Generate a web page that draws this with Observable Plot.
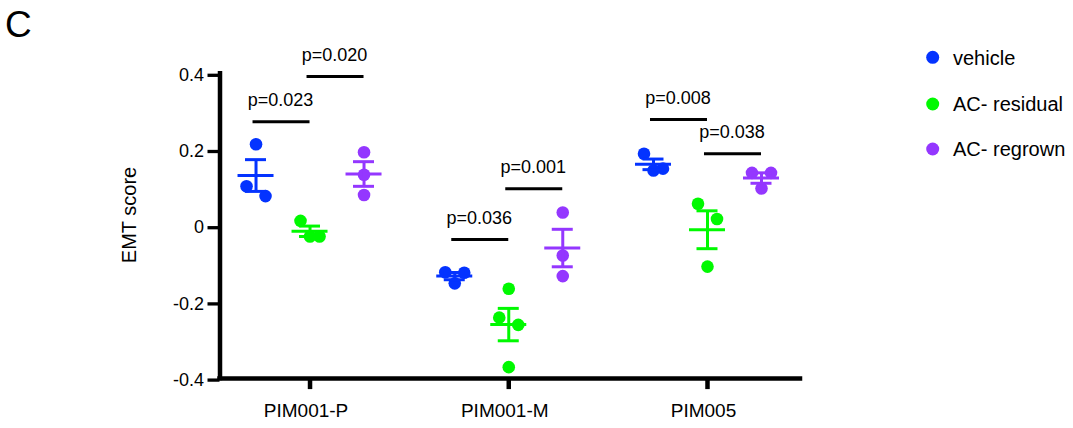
<!DOCTYPE html>
<html>
<head>
<meta charset="utf-8">
<script src="https://cdn.jsdelivr.net/npm/d3@7"></script>
<script src="https://cdn.jsdelivr.net/npm/@observablehq/plot@0.6"></script>
<style>
  html, body { margin: 0; padding: 0; background: #fff; }
  #chart { width: 1073px; height: 428px; overflow: hidden; }
</style>
</head>
<body>
<div id="chart"></div>
<script>
// ---------- data ----------
const cellLines = ["PIM001-P", "PIM001-M", "PIM005"];
const groups = ["vehicle", "AC- residual", "AC- regrown"];
const groupColors = ["#0433ff", "#00f900", "#9437ff"];
const yTicks = [-0.4, -0.2, 0, 0.2, 0.4];

// EMT score of each replicate, one list per cell line
const vehicle  = [[0.215, 0.105, 0.079], [-0.121, -0.122, -0.150], [0.190, 0.151, 0.146]];
const residual = [[0.014, -0.027, -0.027], [-0.164, -0.240, -0.259, -0.370], [0.059, 0.019, -0.106]];
const regrown  = [[0.194, 0.135, 0.082], [0.036, -0.077, -0.131], [0.140, 0.140, 0.099]];

// pairwise comparisons
const pLabels = ["p=0.023", "p=0.020", "p=0.036", "p=0.001", "p=0.008", "p=0.038"];
const pLine   = [0, 0, 1, 1, 2, 2];
const pFrom   = [0, 1, 0, 1, 0, 1];
const pTo     = [1, 2, 1, 2, 1, 2];
const pBarY   = [0.274, 0.393, -0.035, 0.098, 0.280, 0.190];

// ---------- layout ----------
const W = 1073, H = 428;
const mL = 219.5, mR = 273, mT = 73.3, mB = 49.9;
const xDomain = [-0.453, 2.468];
const yDomain = [-0.4, 0.4];
const pxPerX = (W - mL - mR) / (xDomain[1] - xDomain[0]);
const pxPerY = (H - mT - mB) / (yDomain[1] - yDomain[0]);
const G = 54 / pxPerX;          // spacing of the three groups inside a cell line
const px = v => v / pxPerX;     // pixels -> x units
const S = 9.5;                  // horizontal spread step (px) for crowded points
const V = 17;                   // vertical crowding distance (px)
const font = "'Liberation Sans', Arial, Helvetica, sans-serif";

const center = (li, gi) => li + (gi - 1) * G;

// spread crowded replicates sideways, as the original plotting program does
function spread(vals) {
  const order = vals.map((v, i) => i).sort((a, b) => vals[b] - vals[a]);
  const out = new Array(vals.length).fill(0);
  let cluster = [];
  const flush = () => {
    const pattern = cluster.length === 1 ? [0] : cluster.length === 2 ? [-1, 1] : [-1, 1, 0, -2, 2];
    cluster.forEach((i, k) => out[i] = (pattern[k] ?? 0) * S);
    cluster = [];
  };
  order.forEach((i, k) => {
    if (k > 0 && (vals[order[k - 1]] - vals[i]) * pxPerY >= V) flush();
    cluster.push(i);
  });
  flush();
  return out;
}

const series = [vehicle, residual, regrown];
const points = [];
const stats = [];
series.forEach((s, gi) => s.forEach((vals, li) => {
  const off = spread(vals);
  vals.forEach((v, k) => points.push({line: cellLines[li], group: groups[gi], li, gi, value: v, jit: off[k]}));
  const mean = d3.mean(vals);
  const sem = d3.deviation(vals) / Math.sqrt(vals.length);
  stats.push({group: groups[gi], li, gi, mean, lo: mean - sem, hi: mean + sem});
}));

const comps = pLabels.map((label, i) => ({
  label, y: pBarY[i],
  x1: center(pLine[i], pFrom[i]) - px(3),
  x2: center(pLine[i], pTo[i])
}));

const fmt = d => d === 0 ? "0" : (d < 0 ? "-" : "") + Math.abs(d).toFixed(1);

const plot = Plot.plot({
  width: W, height: H,
  marginLeft: mL, marginRight: mR, marginTop: mT, marginBottom: mB,
  x: {domain: xDomain, axis: null},
  y: {domain: yDomain, axis: null},
  color: {domain: groups, range: groupColors},
  style: {fontFamily: font, background: "#fff", color: "#000", overflow: "visible"},
  marks: [
    // axes
    Plot.axisY(yTicks, {tickSize: 12, tickPadding: 4, strokeWidth: 3.3, fontSize: 18, tickFormat: fmt, dy: 1.5, label: null}),
    Plot.axisX([0, 1, 2], {tickSize: 11, strokeWidth: 4.5, tickFormat: () => "", label: null}),
    Plot.axisX([0, 1, 2], {tickSize: 0, tickPadding: 25, fontSize: 19, tickFormat: i => cellLines[i], dx: -4, label: null}),
    Plot.ruleX([xDomain[0]], {y1: yDomain[0], y2: yDomain[1], strokeWidth: 4.5, strokeLinecap: "square"}),
    Plot.ruleY([yDomain[0]], {x1: xDomain[0], x2: xDomain[1], strokeWidth: 4.5, strokeLinecap: "square"}),
    // replicate points
    Plot.dot(points, {x: d => center(d.li, d.gi) + px(d.jit), y: "value", r: 6.3, fill: "group", stroke: "none"}),
    // mean and SEM
    Plot.ruleY(stats, {y: "mean", x1: d => center(d.li, d.gi) - px(18), x2: d => center(d.li, d.gi) + px(18), stroke: "group", strokeWidth: 3}),
    Plot.ruleX(stats, {x: d => center(d.li, d.gi), y1: "lo", y2: "hi", stroke: "group", strokeWidth: 3}),
    Plot.ruleY(stats, {y: "hi", x1: d => center(d.li, d.gi) - px(10.5), x2: d => center(d.li, d.gi) + px(10.5), stroke: "group", strokeWidth: 3}),
    Plot.ruleY(stats, {y: "lo", x1: d => center(d.li, d.gi) - px(10.5), x2: d => center(d.li, d.gi) + px(10.5), stroke: "group", strokeWidth: 3}),
    // comparison bars and p values
    Plot.ruleY(comps, {y: "y", x1: "x1", x2: "x2", stroke: "#000", strokeWidth: 3}),
    Plot.text(comps, {x: d => (d.x1 + d.x2) / 2 - px(1), y: "y", text: "label", lineAnchor: "bottom", dy: -15.5, fontSize: 18, fill: "#000"})
  ]
});

document.getElementById("chart").appendChild(plot);

// panel letter, y-axis title and legend drawn into the same SVG
const svg = d3.select(plot);
svg.append("text").attr("x", 5).attr("y", 37).attr("text-anchor", "start").attr("font-size", 37)
  .attr("font-family", font).attr("fill", "#000").text("C");
svg.append("text").attr("transform", "translate(136,215) rotate(-90)").attr("text-anchor", "middle")
  .attr("font-size", 20).attr("font-family", font).attr("fill", "#000").text("EMT score");
const legendY = [57.3, 104, 149];
const lg = svg.append("g");
groups.forEach((g, i) => {
  lg.append("circle").attr("cx", 932.7).attr("cy", legendY[i]).attr("r", 6.5).attr("fill", groupColors[i]);
  lg.append("text").attr("x", 953).attr("y", legendY[i] + 7.2).attr("text-anchor", "start").attr("font-size", 20)
    .attr("font-family", font).attr("fill", "#000").text(g);
});
</script>
</body>
</html>
